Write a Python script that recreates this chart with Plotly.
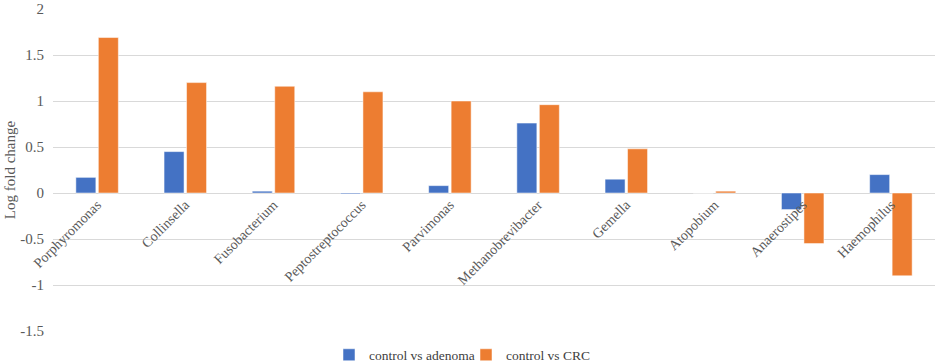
import plotly.graph_objects as go

categories = ["Porphyromonas", "Collinsella", "Fusobacterium", "Peptostreptococcus",
              "Parvimonas", "Methanobrevibacter", "Gemella", "Atopobium",
              "Anaerostipes", "Haemophilus"]
adenoma = [0.17, 0.45, 0.02, -0.01, 0.08, 0.76, 0.15, 0.0, -0.18, 0.20]
crc = [1.69, 1.20, 1.16, 1.10, 1.00, 0.96, 0.48, 0.02, -0.55, -0.90]
series_names = ["control vs adenoma", "control vs CRC"]
yticks = [-1.5, -1, -0.5, 0, 0.5, 1, 1.5, 2]

font = "Liberation Serif"
fig = go.Figure()
fig.add_trace(go.Bar(x=categories, y=adenoma, name=series_names[0],
                     marker=dict(color="#4472C4", line=dict(color="rgba(255,255,255,0.5)", width=1))))
fig.add_trace(go.Bar(x=categories, y=crc, name=series_names[1],
                     marker=dict(color="#ED7D31", line=dict(color="rgba(255,255,255,0.5)", width=1))))

ymin, ymax = -1.5, 2
fig.update_layout(
    width=943, height=362,
    margin=dict(l=53, r=8, t=9, b=31, autoexpand=False),
    paper_bgcolor="white", plot_bgcolor="white",
    barmode="group", bargap=0.49, bargroupgap=0.11,
    font=dict(family=font, size=14, color="#595959"),
    legend=dict(orientation="h", xref="container", x=329 / 943, xanchor="left",
                yref="container", y=(362 - 355) / 362, yanchor="middle",
                font=dict(family=font, size=13.5, color="#404040"),
                itemwidth=30, traceorder="normal",
                entrywidth=92, entrywidthmode="pixels"),
    xaxis=dict(anchor="free", position=(0 - ymin) / (ymax - ymin),
               tickangle=-45, showgrid=False, showline=False, ticks="",
               tickfont=dict(family=font, size=14, color="#595959"),
               automargin=False),
    yaxis=dict(range=[ymin, ymax], tickvals=yticks,
               ticktext=[f"{v:g}" for v in yticks],
               showgrid=True, gridcolor="#d9d9d9", gridwidth=1,
               zeroline=True, zerolinecolor="#d9d9d9", zerolinewidth=1,
               tickfont=dict(family=font, size=15, color="#595959"),
               title=dict(text="Log fold change", font=dict(family=font, size=15, color="#595959"), standoff=1),
               automargin=False, ticks="", ticklabelstandoff=8),
)
fig.write_html("out.html", config={"displayModeBar": False},
               post_script="document.body.style.margin='0';")
